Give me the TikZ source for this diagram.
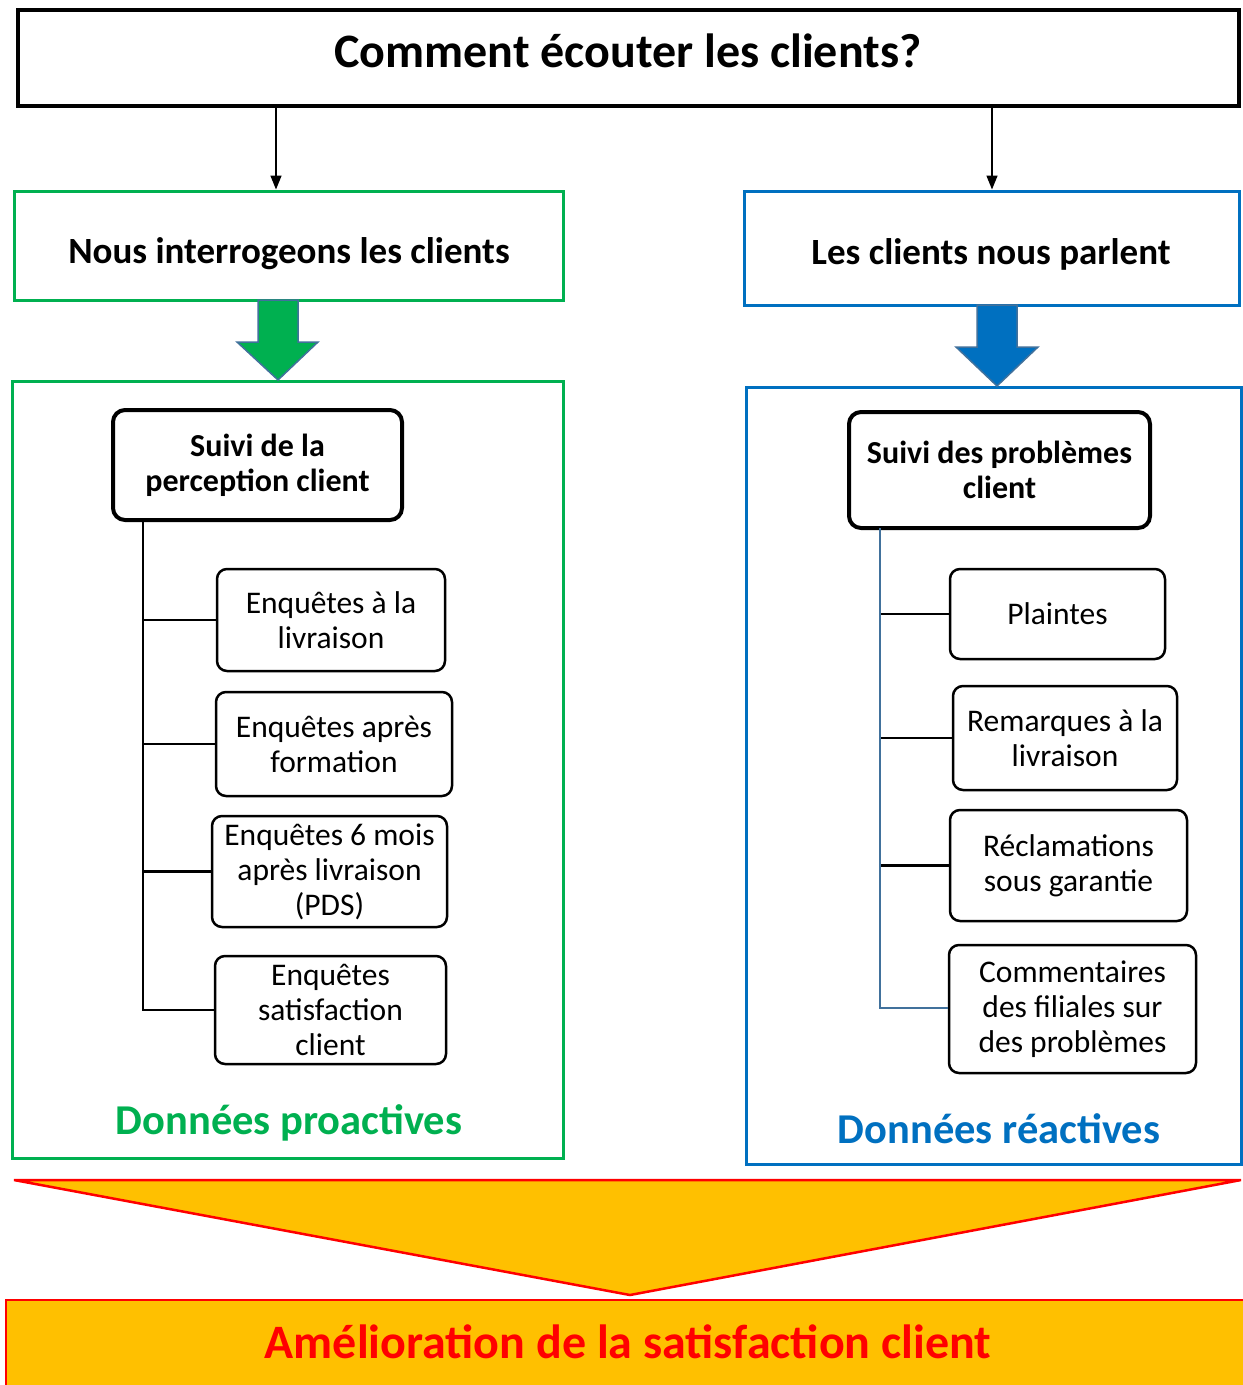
\documentclass[tikz,border=0pt]{standalone}
\usepackage{fontspec}
\setmainfont{Carlito}
\usetikzlibrary{arrows.meta}
\definecolor{cgreen}{HTML}{00B050}
\definecolor{cblue}{HTML}{0070C0}
\definecolor{corange}{HTML}{FFC000}
\definecolor{cred}{HTML}{FF0000}
\definecolor{cedge}{HTML}{41719C}
\tikzset{
  titlebox/.style={draw=black, line width=4pt, inner sep=0pt},
  titletext/.style={inner sep=0pt, font=\fontsize{48}{56}\selectfont\bfseries},
  catbox/.style={line width=3pt, inner sep=0pt},
  cattext/.style={inner sep=0pt, font=\fontsize{37}{44}\selectfont\bfseries},
  headbox/.style={draw=black, line width=4pt, rounded corners=12pt, inner sep=0pt, align=center, font=\fontsize{32}{35}\selectfont\bfseries},
  itembox/.style={draw=black, line width=2.5pt, rounded corners=10pt, inner sep=0pt, align=center, font=\fontsize{31.5}{35}\selectfont},
  bigbox/.style={line width=3pt, inner sep=0pt},
  treeline/.style={line width=2.5pt},
  blockarrow/.style={draw=cedge, line width=1.5pt, line join=miter},
  flowarrow/.style={line width=1.5pt, -{Triangle[length=14pt,width=11pt]}},
}
\begin{document}
\begin{tikzpicture}[x=1pt,y=-1pt]
\useasboundingbox (0,0) rectangle (1243,1385);
\fill[white] (0,0) rectangle (1243,1385);

% title
\node[titlebox, minimum width=1221pt, minimum height=96pt] (title) at (628.5,58) {};
\node[titletext] (titlet) at (628,51) {Comment écouter les clients?};

% category boxes
\node[catbox, draw=cgreen, minimum width=549pt, minimum height=109pt] (nous) at (288.5,245.5) {};
\node[cattext] (noust) at (289,254) {Nous interrogeons les clients};
\node[catbox, draw=cblue, minimum width=495pt, minimum height=114pt] (les) at (991.5,248) {};
\node[cattext] (lest) at (991,254) {Les clients nous parlent};

\coordinate (tA) at (276,106);
\coordinate (tB) at (992,106);
\draw[flowarrow] (tA) -- (tA |- nous.north);
\draw[flowarrow] (tB) -- (tB |- les.north);

% big boxes
\node[bigbox, draw=cgreen, minimum width=551pt, minimum height=777pt] (pro) at (287.5,769.5) {};
\node[bigbox, draw=cblue, minimum width=495pt, minimum height=777pt] (rea) at (993.5,775.5) {};

% block arrows
\draw[blockarrow, fill=cgreen] (258,300) -- (298,300) -- (298,342) -- (318,342) -- (278,380) -- (237,342) -- (258,342) -- cycle;
\draw[blockarrow, fill=cblue] (977,305) -- (1017,305) -- (1017,347) -- (1038,347) -- (997,386) -- (956,347) -- (977,347) -- cycle;

% left tree
\node[headbox, minimum width=289pt, minimum height=110pt] (lh) at (257.5,465) {Suivi de la\\perception client};
\node[itembox, minimum width=228pt, minimum height=102pt] (l1) at (331,620) {Enquêtes à la\\livraison};
\node[itembox, minimum width=236pt, minimum height=104pt] (l2) at (334,744) {Enquêtes après\\formation};
\node[itembox, minimum width=235pt, minimum height=111pt] (l3) at (329.5,871.5) {Enquêtes 6 mois\\après livraison\\(PDS)};
\node[itembox, minimum width=231pt, minimum height=108pt] (l4) at (330.5,1010) {Enquêtes\\satisfaction\\client};
\coordinate (lt) at (143,520);
\draw[treeline] (lt) |- (l4.west);
\draw[treeline] (lt) |- (l1.west);
\draw[treeline] (lt) |- (l2.west);
\draw[treeline] (lt) |- (l3.west);
\node[text=cgreen, inner sep=0pt, font=\fontsize{42.5}{50}\selectfont\bfseries] (lpro) at (289,1123) {Données proactives};

% right tree
\node[headbox, minimum width=301pt, minimum height=116pt] (rh) at (999.5,470) {Suivi des problèmes\\client};
\node[itembox, minimum width=215pt, minimum height=90pt] (r1) at (1057.5,614) {Plaintes};
\node[itembox, minimum width=224pt, minimum height=104pt] (r2) at (1065,738) {Remarques à la\\livraison};
\node[itembox, minimum width=237pt, minimum height=111pt] (r3) at (1068.5,865.5) {Réclamations\\sous garantie};
\node[itembox, minimum width=247pt, minimum height=128pt] (r4) at (1072.5,1009) {Commentaires\\des filiales sur\\des problèmes};
\coordinate (rt) at (880,528);
\coordinate (rb) at (880,1008);
\draw[treeline] (rt |- r1.west) -- (r1.west);
\draw[treeline] (rt |- r2.west) -- (r2.west);
\draw[treeline] (rt |- r3.west) -- (r3.west);
\draw[treeline, draw=cedge] (rt) -- (rb) -- (rb -| r4.west);
\node[text=cblue, inner sep=0pt, font=\fontsize{42.5}{50}\selectfont\bfseries] (lrea) at (999,1129) {Données réactives};

% bottom
\draw[line width=2.5pt, draw=cred, fill=corange, line join=miter] (14,1180) -- (1241,1180) -- (630,1295) -- cycle;
\draw[line width=2.5pt, draw=cred, fill=corange] (6,1400) -- (6,1300) -- (1250,1300) -- (1250,1400);
\node[text=cred, inner sep=0pt, font=\fontsize{48}{56}\selectfont\bfseries] (amel) at (628,1342) {Amélioration de la satisfaction client};
\end{tikzpicture}
\end{document}
